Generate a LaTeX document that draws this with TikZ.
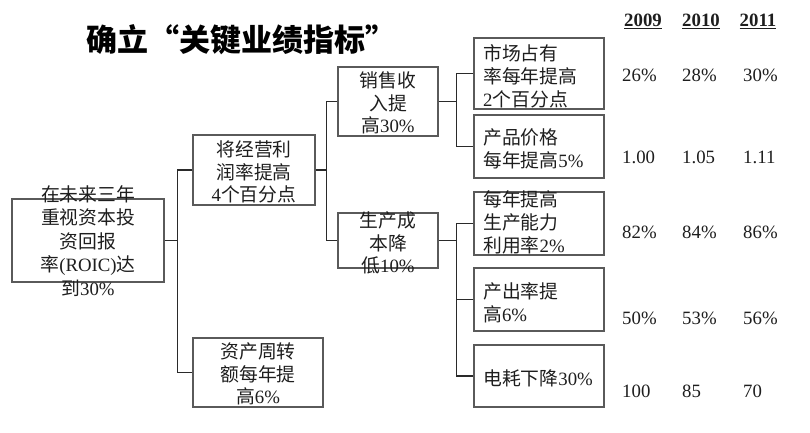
\documentclass[tikz,border=0pt]{standalone}
\usepackage{fontspec}
\setmainfont{Liberation Serif}
\newfontfamily\cjkfont{Noto Sans CJK SC}
\newcommand\zhtxt[1]{{\cjkfont #1}}
\definecolor{txtc}{HTML}{1E1E1E}
\definecolor{boxc}{HTML}{5A5A5A}
\definecolor{linec}{HTML}{2A2A2A}
\begin{document}
\begin{tikzpicture}[x=1pt,y=-1pt,
  box/.style={draw=boxc,line width=1.4pt,rectangle,inner sep=0pt},
  ctext/.style={text=txtc,align=center,inner sep=0pt,font=\fontsize{18.8}{22.5}\selectfont},
  ltext/.style={text=txtc,align=left,anchor=west,inner sep=0pt,font=\fontsize{18.8}{23}\selectfont},
  val/.style={text=txtc,anchor=west,inner sep=0pt,font=\fontsize{18.8}{22}\selectfont},
  yr/.style={text=txtc,anchor=center,inner sep=0pt,font=\fontsize{18.8}{22}\selectfont\bfseries},
  conn/.style={draw=linec,line width=1.4pt}]
\useasboundingbox (0,0) rectangle (810,433);
\fill[white] (0,0) rectangle (810,433);

% title
\node[text=black,inner sep=0pt,font=\fontsize{31}{34}\selectfont\cjkfont\bfseries] (title) at (241,40) {确立“关键业绩指标”};

% boxes
\node[box,minimum width=152pt,minimum height=83pt] (root) at (88,240.5) {};
\node[box,minimum width=122pt,minimum height=70pt] (b2) at (254,170) {};
\node[box,minimum width=130pt,minimum height=69pt] (b3) at (258,372.5) {};
\node[box,minimum width=100pt,minimum height=69pt] (s1) at (388,101.5) {};
\node[box,minimum width=100pt,minimum height=55pt] (s2) at (388,240.5) {};
\node[box,minimum width=130pt,minimum height=71pt] (l1) at (539,73.5) {};
\node[box,minimum width=130pt,minimum height=63pt] (l2) at (539,146.5) {};
\node[box,minimum width=130pt,minimum height=63pt] (l3) at (539,223.5) {};
\node[box,minimum width=130pt,minimum height=63pt] (l4) at (539,299.5) {};
\node[box,minimum width=130pt,minimum height=62pt] (l5) at (539,376) {};

% texts
\node[ctext,font=\fontsize{18.8}{23.5}\selectfont] (troot) at (88,241) {\zhtxt{在未来三年}\\\zhtxt{重视资本投}\\\zhtxt{资回报}\\\zhtxt{率}(ROIC)\zhtxt{达}\\\zhtxt{到}30\%};
\node[ctext] (tb2) at (254,172) {\zhtxt{将经营利}\\\zhtxt{润率提高}\\4\zhtxt{个百分点}};
\node[ctext] (tb3) at (258,374) {\zhtxt{资产周转}\\\zhtxt{额每年提}\\\zhtxt{高}6\%};
\node[ctext] (ts1) at (388,103) {\zhtxt{销售收}\\\zhtxt{入提}\\\zhtxt{高}30\%};
\node[ctext] (ts2) at (388,243) {\zhtxt{生产成}\\\zhtxt{本降}\\\zhtxt{低}10\%};
\node[ltext] (tl1) at (483,76) {\zhtxt{市场占有}\\\zhtxt{率每年提高}\\2\zhtxt{个百分点}};
\node[ltext] (tl2) at (483,149) {\zhtxt{产品价格}\\\zhtxt{每年提高}5\%};
\node[ltext] (tl3) at (483,222) {\zhtxt{每年提高}\\\zhtxt{生产能力}\\\zhtxt{利用率}2\%};
\node[ltext] (tl4) at (483,303) {\zhtxt{产出率提}\\\zhtxt{高}6\%};
\node[ltext] (tl5) at (483,378) {\zhtxt{电耗下降}30\%};

% connectors
\coordinate (bus1) at (178,240.5);
\draw[conn] (root.east) -- (bus1);
\draw[conn] (b2.west) -- ++(-15,0) |- (b3.west);
\coordinate (bus2) at (327,170);
\draw[conn] (b2.east) -- (bus2);
\draw[conn] (s1.west) -- ++(-11,0) |- (s2.west);
\coordinate (bus3) at (457,101.5);
\draw[conn] (s1.east) -- (bus3);
\draw[conn] (l1.west) -- ++(-17,0) |- (l2.west);
\coordinate (bus4) at (457,240.5);
\draw[conn] (s2.east) -- (bus4);
\draw[conn] (l3.west) -- ++(-17,0) |- (l5.west);
\draw[conn] (l4.west) -- ++(-17,0);

% years
\node[yr] (y1) at (643,21) {\underline{2009}};
\node[yr] (y2) at (701,21) {\underline{2010}};
\node[yr] (y3) at (758,21) {\underline{2011}};

% values
\node[val] (v11) at (622,75) {26\%};
\node[val] (v12) at (682,75) {28\%};
\node[val] (v13) at (743,75) {30\%};
\node[val] (v21) at (622,157) {1.00};
\node[val] (v22) at (682,157) {1.05};
\node[val] (v23) at (743,157) {1.11};
\node[val] (v31) at (622,232) {82\%};
\node[val] (v32) at (682,232) {84\%};
\node[val] (v33) at (743,232) {86\%};
\node[val] (v41) at (622,318) {50\%};
\node[val] (v42) at (682,318) {53\%};
\node[val] (v43) at (743,318) {56\%};
\node[val] (v51) at (622,391) {100};
\node[val] (v52) at (682,391) {85};
\node[val] (v53) at (743,391) {70};
\end{tikzpicture}
\end{document}
